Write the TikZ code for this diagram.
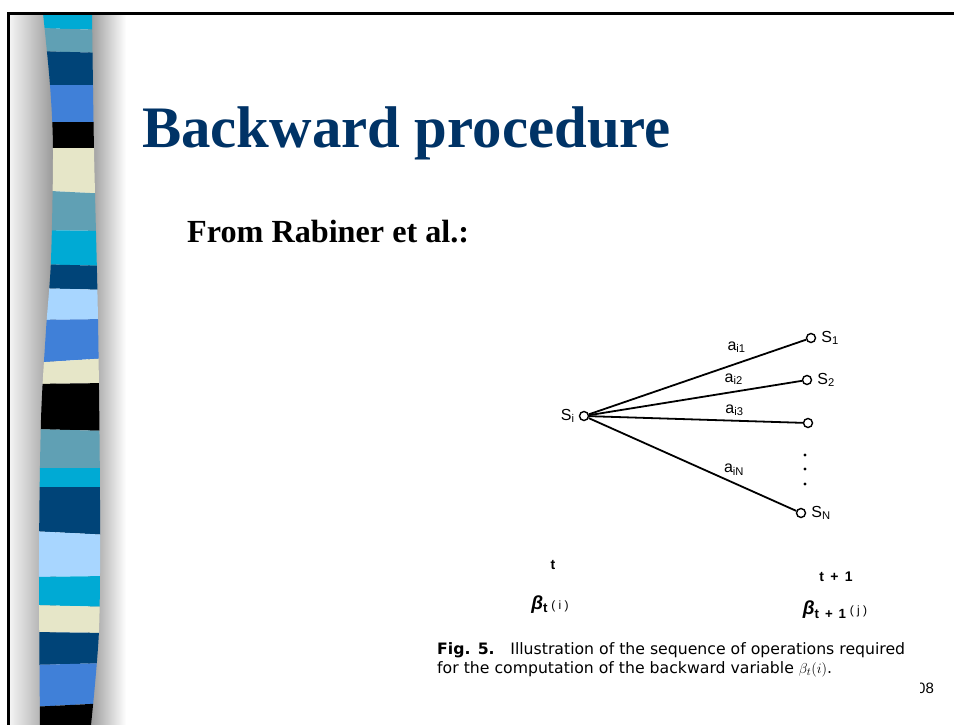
\documentclass[tikz,border=0pt]{standalone}
\usepackage{fontspec}
\setmainfont{Liberation Serif}
\newfontfamily\figfont{Liberation Sans}
\newfontfamily\capfont{DejaVu Sans}
\usetikzlibrary{positioning}

\definecolor{titleblue}{RGB}{0,51,102}
\definecolor{barcyan}{RGB}{0,170,212}
\definecolor{barsteel}{RGB}{96,160,180}
\definecolor{barnavy}{RGB}{0,68,120}
\definecolor{barmid}{RGB}{64,128,216}
\definecolor{barbeige}{RGB}{230,230,200}
\definecolor{barlight}{RGB}{168,214,255}

\newcommand{\lowtext}[1]{{\fontsize{12}{12}\selectfont #1}}

\tikzset{
  state/.style={circle, draw, line width=1.4pt, inner sep=0pt, minimum size=9pt, fill=white},
  trans/.style={line width=1.8pt},
  figlabel/.style={font=\figfont\fontsize{16}{16}\selectfont, inner sep=1pt},
  steplabel/.style={font=\figfont\bfseries\fontsize{14}{14}\selectfont, inner sep=1pt},
}

\begin{document}
\begin{tikzpicture}[x=1pt, y=-1pt]
  \useasboundingbox (0,0) rectangle (954,725);
  \fill[white] (0,0) rectangle (954,725);

  % shadow round the bar
  \shade[left color=black!4, right color=black!42] (9,14) rectangle (56,725);
  \shade[left color=black!42, right color=white] (88,14) rectangle (126,725);

  % striped bar
  \begin{scope}
    \clip plot[smooth] coordinates {(43,13) (50,85) (53,150) (51,260) (46,330) (41,420) (39,560) (40,725)}
      -- plot[smooth] coordinates {(91,725) (99,630) (100,500) (98,320) (94,150) (92,13)} -- cycle;
    \foreach \ya/\yb/\yc/\yd/\col in {
        13/13/28/30/barcyan, 28/30/51/53/barsteel, 51/53/85/85/barnavy,
        85/85/122/122/barmid, 122/122/148/148/black, 148/148/190/194/barbeige,
        190/194/230/231/barsteel, 230/231/264/266/barcyan, 264/266/288/290/barnavy,
        288/290/320/319/barlight, 320/319/363/358/barmid, 363/358/384/383/barbeige,
        384/383/429/431/black, 429/431/468/468/barsteel, 468/468/487/487/barcyan,
        487/487/531/535/barnavy, 531/535/577/576/barlight, 577/576/605/607/barcyan,
        605/607/632/633/barbeige, 632/633/665/663/barnavy, 665/663/707/703/barmid,
        707/703/726/726/black}
      \fill[\col] (30,\ya) -- (110,\yb) -- (110,\yd) -- (30,\yc) -- cycle;
  \end{scope}

  % frame
  \draw[line width=2.6pt] (8.3,725) -- (8.3,13.5) -- (954,13.5);

  % titles
  \node[anchor=base west, text=titleblue, font=\bfseries\fontsize{58.8}{58.8}\selectfont, inner sep=0pt] (title) at (142,147) {Backward procedure};
  \node[anchor=base west, font=\bfseries\fontsize{32.2}{32.2}\selectfont, inner sep=0pt] (source) at (187,242) {From Rabiner et al.:};

  % states
  \node[state] (si) at (584,416) {};
  \node[state] (s1) at (811,338) {};
  \node[state] (s2) at (807,380) {};
  \node[state] (s3) at (808,423) {};
  \node[state] (sn) at (801,513) {};

  \node[figlabel, left=3pt of si] (silabel) {S\textsubscript{i}};
  \node[figlabel, right=4pt of s1] (s1label) {S\textsubscript{1}};
  \node[figlabel, right=4pt of s2] (s2label) {S\textsubscript{2}};
  \node[figlabel, right=4pt of sn] (snlabel) {S\textsubscript{N}};

  % transitions
  \draw[trans] (si) -- (s1) node[figlabel, pos=0.68, above=9pt] {a\textsubscript{i1}};
  \draw[trans] (si) -- (s2) node[figlabel, pos=0.68, above=5pt] {a\textsubscript{i2}};
  \draw[trans] (si) -- (s3) node[figlabel, pos=0.68, above=3pt] {a\textsubscript{i3}};
  \draw[trans] (si) -- (sn) node[figlabel, pos=0.70, above=6pt] {a\textsubscript{iN}};

  \foreach \y in {455,469,484}
    \fill (805,\y) circle (1.7pt);

  % time steps
  \node[steplabel] (tnow) at (553,565) {t};
  \node[steplabel] (tnext) at (836,577) {t\, +\, 1};
  \node[figlabel, font=\figfont\fontsize{19}{19}\selectfont] (betanow) at (550,605)
    {\textbf{\textit{β}}\textsubscript{\bfseries t}\,\lowtext{( i )}};
  \node[figlabel, font=\figfont\fontsize{19}{19}\selectfont] (betanext) at (835,610)
    {\textbf{\textit{β}}\textsubscript{\bfseries t\, +\, 1}\,\lowtext{( j )}};

  % caption
  \node[anchor=north west, align=left, inner sep=0pt, font=\capfont\fontsize{15.7}{19}\selectfont] (caption) at (437,642)
    {\textbf{Fig. 5.}\quad Illustration of the sequence of operations required\\
     for the computation of the backward variable $\beta_t(i)$.};

  % page number, cut at the left
  \begin{scope}
    \clip (920.5,670) rectangle (954,705);
    \node[anchor=base west, inner sep=0pt, font=\figfont\fontsize{15}{15}\selectfont] (pagenum) at (917,693) {08};
  \end{scope}
\end{tikzpicture}
\end{document}
